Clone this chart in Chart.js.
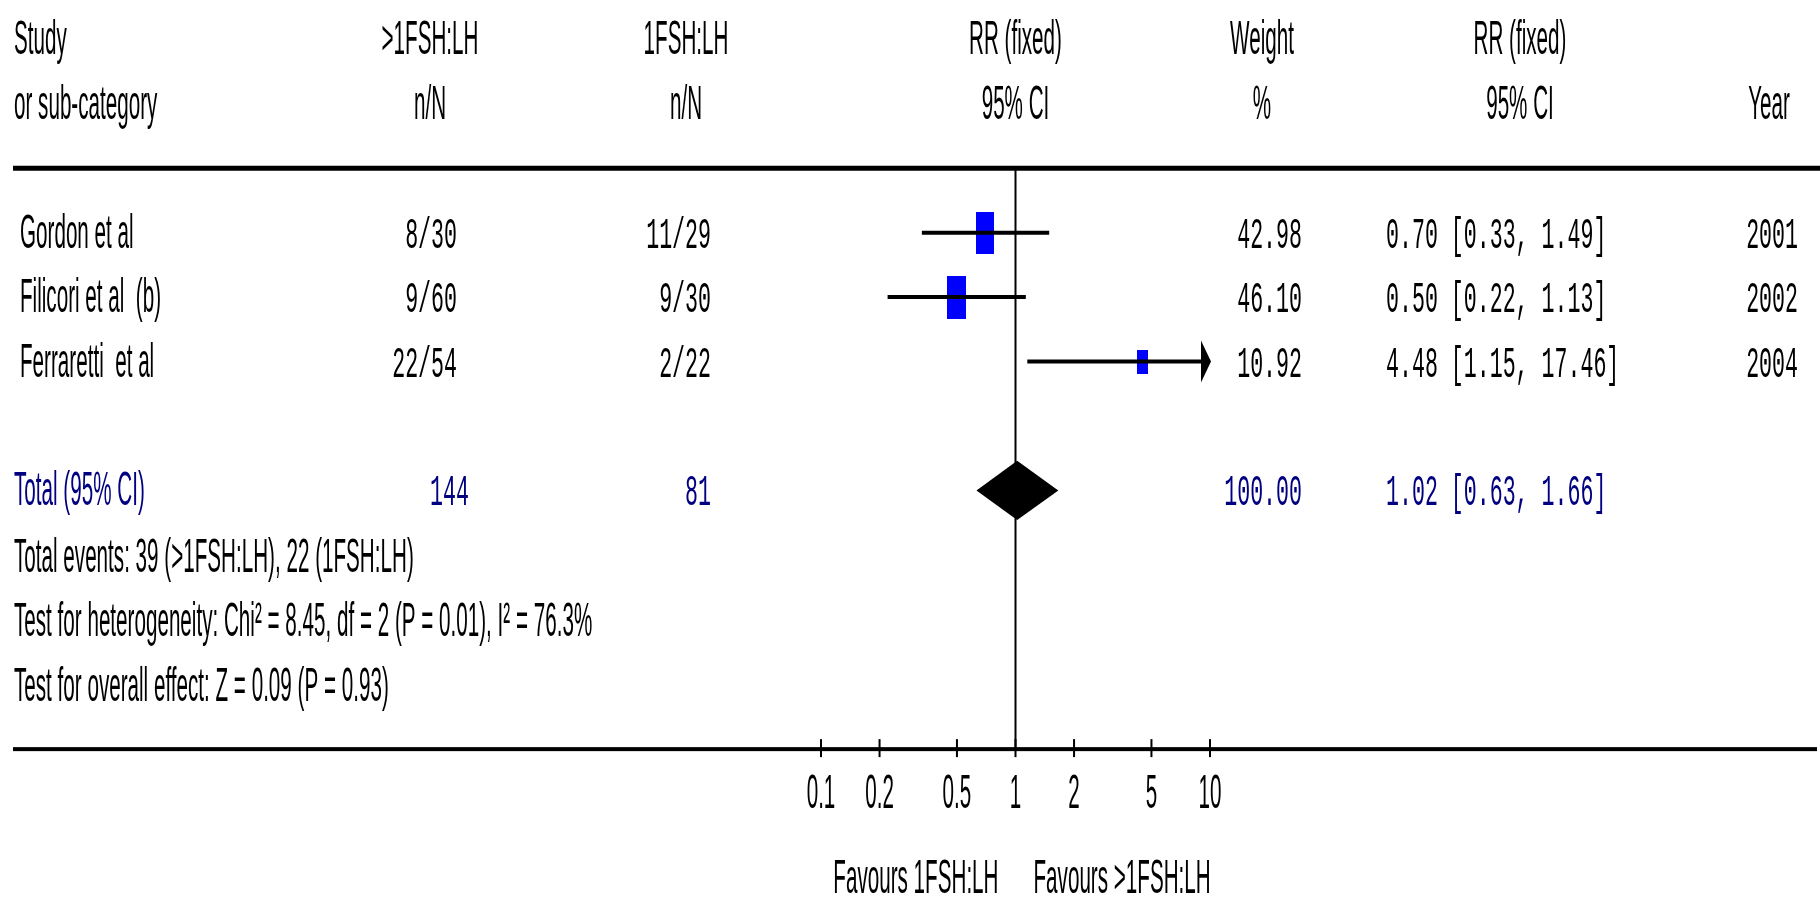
<!DOCTYPE html>
<html>
<head>
<meta charset="utf-8">
<title>Forest plot</title>
<script src="https://cdn.jsdelivr.net/npm/chart.js@4.4.1/dist/chart.umd.min.js"></script>
<style>
  html, body { margin: 0; padding: 0; background: #fff; }
  #wrap { width: 1820px; height: 904px; }
</style>
</head>
<body>
<div id="wrap"><canvas id="forest" width="1820" height="904"></canvas></div>
<script>
// study rows
const studies = ["Gordon et al", "Filicori et al  (b)", "Ferraretti  et al"];
const groupA = ["8/30", "9/60", "22/54"];   // >1FSH:LH n/N
const groupB = ["11/29", "9/30", "2/22"];   // 1FSH:LH n/N
const rr = [0.70, 0.50, 4.48];
const ciLow = [0.33, 0.22, 1.15];
const ciHigh = [1.49, 1.13, 17.46];
const weights = [42.98, 46.10, 10.92];
const years = ["2001", "2002", "2004"];
const studyRows = [1, 2, 3];

// pooled
const totalRow = 5;
const totalA = "144";
const totalB = "81";
const totalRR = [1.02];
const totalLow = [0.63];
const totalHigh = [1.66];
const totalWeight = [100.00];

const axisTicks = [0.1, 0.2, 0.5, 1, 2, 5, 10];
const axisLabels = ["0.1", "0.2", "0.5", "1", "2", "5", "10"];
const headerTop = ["Study", ">1FSH:LH", "1FSH:LH", "RR (fixed)", "Weight", "RR (fixed)", ""];
const headerBottom = ["or sub-category", "n/N", "n/N", "95% CI", "%", "95% CI", "Year"];
const footnotes = [
  "Total events: 39 (>1FSH:LH), 22 (1FSH:LH)",
  "Test for heterogeneity: Chi\u00b2 = 8.45, df = 2 (P = 0.01), I\u00b2 = 76.3%",
  "Test for overall effect: Z = 0.09 (P = 0.93)"
];
const favours = ["Favours 1FSH:LH", "Favours >1FSH:LH"];

const NAVY = "#000080";
const BLUE = "#0000ff";
const SANS = '48px "Liberation Sans", Arial, sans-serif';
const SANS_SX = 0.43;
const MONO = '45px "Liberation Mono", "Courier New", monospace';
const MONO_SX = 0.48;
const AXIS_ROW = 9;
const TICK_LABEL_ROW = 9.66;
const FAVOURS_ROW = 11;
const DIAMOND_HALF = 0.46;

function fmt(v) { return v.toFixed(2); }

// blue weight boxes, sized from the weight
const boxStyles = weights.map((w) => {
  const c = document.createElement("canvas");
  c.width = Math.round(4 + 2.15 * Math.sqrt(w));
  c.height = Math.round(5.7 + 5.54 * Math.sqrt(w));
  const g = c.getContext("2d");
  g.fillStyle = BLUE;
  g.fillRect(0, 0, c.width, c.height);
  return c;
});

function txt(ctx, s, x, y, align, font, color, sx) {
  ctx.save();
  ctx.font = font;
  ctx.fillStyle = color;
  ctx.textAlign = "left";
  ctx.textBaseline = "alphabetic";
  const w = ctx.measureText(s).width * sx;
  let left = x;
  if (align === "right") left = x - w;
  else if (align === "center") left = x - w / 2;
  ctx.translate(left, y);
  ctx.scale(sx, 1);
  ctx.fillText(s, 0, 0);
  ctx.restore();
}

const forestDecor = {
  id: "forestDecor",
  afterDatasetsDraw(chart) {
    const { ctx, chartArea } = chart;
    const xs = chart.scales.x;
    const ys = chart.scales.y;
    const rowY = (r) => ys.getPixelForValue(r);
    const mid = (chartArea.left + chartArea.right) / 2;

    ctx.save();
    // top rule
    ctx.fillStyle = "#000";
    ctx.fillRect(13, rowY(0) - 2.5, 1820 - 13, 5);
    // bottom axis
    ctx.fillRect(13, rowY(AXIS_ROW) - 1, 1817 - 13, 4);
    ctx.fillRect(0, 0, 0, 0);
    axisTicks.forEach((t) => {
      const px = xs.getPixelForValue(t);
      ctx.fillRect(px - 1, rowY(AXIS_ROW) - 9, 2, 18);
    });

    // pooled diamond
    const yT = rowY(totalRow);
    ctx.beginPath();
    ctx.moveTo(xs.getPixelForValue(totalLow[0]), yT);
    ctx.lineTo(xs.getPixelForValue(totalRR[0]), rowY(totalRow - DIAMOND_HALF));
    ctx.lineTo(xs.getPixelForValue(totalHigh[0]), yT);
    ctx.lineTo(xs.getPixelForValue(totalRR[0]), rowY(totalRow + DIAMOND_HALF));
    ctx.closePath();
    ctx.fill();

    // arrows for CIs running past the axis
    ciHigh.forEach((hi, i) => {
      if (hi <= xs.max) return;
      const ax = xs.getPixelForValue(xs.max);
      const ay = rowY(studyRows[i]);
      ctx.beginPath();
      ctx.moveTo(ax - 9, ay - 21);
      ctx.lineTo(ax + 1, ay);
      ctx.lineTo(ax - 9, ay + 21);
      ctx.closePath();
      ctx.fill();
    });
    ctx.restore();

    // headers
    const hx = [14, 430, 686, mid, 1262, 1520, 1769];
    headerTop.forEach((s, i) => {
      if (s) txt(ctx, s, hx[i], rowY(-2) + 15, i === 0 ? "left" : "center", SANS, "#000", SANS_SX);
    });
    headerBottom.forEach((s, i) => {
      txt(ctx, s, hx[i], rowY(-1) + 15, i === 0 ? "left" : "center", SANS, "#000", SANS_SX);
    });

    // study rows
    studies.forEach((s, i) => {
      const y = rowY(studyRows[i]);
      txt(ctx, s, 20, y + 15, "left", SANS, "#000", SANS_SX);
      txt(ctx, groupA[i], 457, y + 15, "right", MONO, "#000", MONO_SX);
      txt(ctx, groupB[i], 711, y + 15, "right", MONO, "#000", MONO_SX);
      txt(ctx, fmt(weights[i]), 1302, y + 15, "right", MONO, "#000", MONO_SX);
      txt(ctx, fmt(rr[i]) + " [" + fmt(ciLow[i]) + ", " + fmt(ciHigh[i]) + "]", 1386, y + 15, "left", MONO, "#000", MONO_SX);
      txt(ctx, years[i], 1798, y + 15, "right", MONO, "#000", MONO_SX);
    });

    // total row
    const ty = rowY(totalRow) + 15;
    txt(ctx, "Total (95% CI)", 14, ty, "left", SANS, NAVY, SANS_SX);
    txt(ctx, totalA, 469, ty, "right", MONO, NAVY, MONO_SX);
    txt(ctx, totalB, 711, ty, "right", MONO, NAVY, MONO_SX);
    txt(ctx, fmt(totalWeight[0]), 1302, ty, "right", MONO, NAVY, MONO_SX);
    txt(ctx, fmt(totalRR[0]) + " [" + fmt(totalLow[0]) + ", " + fmt(totalHigh[0]) + "]", 1386, ty, "left", MONO, NAVY, MONO_SX);

    // footnotes
    footnotes.forEach((s, i) => {
      txt(ctx, s, 14, rowY(totalRow + 1 + i) + 17, "left", SANS, "#000", SANS_SX);
    });

    // axis labels
    axisTicks.forEach((t, i) => {
      txt(ctx, axisLabels[i], xs.getPixelForValue(t), rowY(TICK_LABEL_ROW) + 17, "center", SANS, "#000", SANS_SX);
    });
    const onePx = xs.getPixelForValue(1);
    txt(ctx, favours[0], onePx - 17, rowY(FAVOURS_ROW) + 16, "right", SANS, "#000", SANS_SX);
    txt(ctx, favours[1], onePx + 18, rowY(FAVOURS_ROW) + 16, "left", SANS, "#000", SANS_SX);
  }
};

// datasets: CI lines on top of the boxes, null line at the back
const ciSets = studies.map((s, i) => ({
  label: s,
  data: [{ x: ciLow[i], y: studyRows[i] }, { x: ciHigh[i], y: studyRows[i] }],
  showLine: true,
  borderColor: "#000",
  borderWidth: 4,
  pointRadius: 0
}));

const boxSet = {
  label: "RR",
  data: rr.map((v, i) => ({ x: v, y: studyRows[i] })),
  pointStyle: boxStyles,
  pointRadius: 5,
  showLine: false
};

const nullLine = {
  label: "no effect",
  data: [{ x: 1, y: 0 }, { x: 1, y: AXIS_ROW }],
  showLine: true,
  borderColor: "#000",
  borderWidth: 2,
  pointRadius: 0
};

new Chart(document.getElementById("forest"), {
  type: "scatter",
  data: { datasets: [...ciSets, boxSet, nullLine] },
  options: {
    responsive: false,
    animation: false,
    events: [],
    layout: { padding: { left: 821, right: 610, top: 0, bottom: 0 } },
    scales: {
      x: { type: "logarithmic", min: 0.1, max: 10, display: false },
      y: { type: "linear", min: -2.518, max: 11.326, reverse: true, display: false }
    },
    plugins: {
      legend: { display: false },
      tooltip: { enabled: false }
    }
  },
  plugins: [forestDecor]
});
</script>
</body>
</html>
